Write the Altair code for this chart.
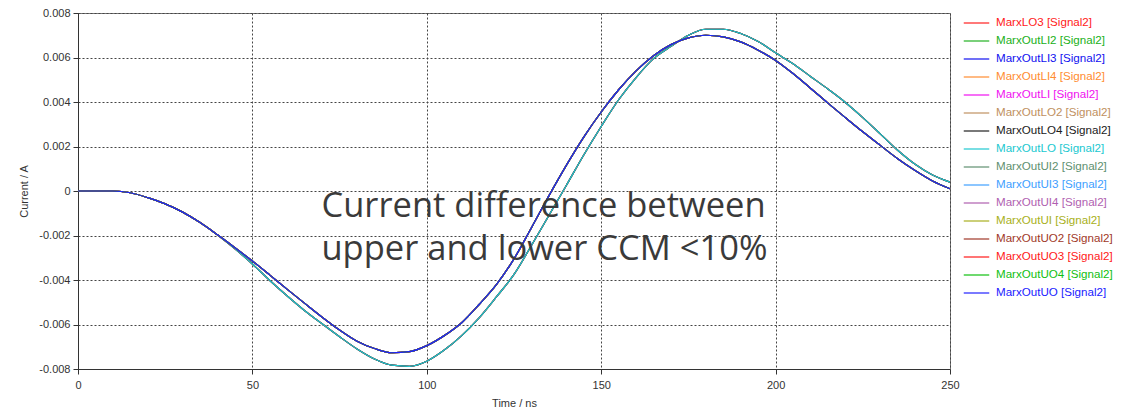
import altair as alt
import pandas as pd

# ---------------- data ----------------
time_ns = list(range(0, 251, 5))

# smaller-amplitude group of curves (mA)
group_a_mA = [0, 0, 0, -0.08, -0.3, -0.58, -0.95, -1.42, -1.97, -2.55,
              -3.15, -3.78, -4.42, -5.05, -5.67, -6.25, -6.75, -7.08, -7.27, -7.22,
              -6.95, -6.5, -5.92, -5.1, -4.2, -3.05, -1.65, -0.22, 1.15, 2.42,
              3.55, 4.55, 5.4, 6.08, 6.58, 6.88, 7.0, 6.93, 6.7, 6.33,
              5.87, 5.28, 4.62, 3.95, 3.3, 2.66, 2.05, 1.45, 0.92, 0.45,
              0.1]

# larger-amplitude group of curves (mA)
group_b_mA = [0, 0, 0, -0.08, -0.3, -0.58, -0.95, -1.42, -1.98, -2.6,
              -3.28, -4.02, -4.72, -5.38, -5.97, -6.55, -7.1, -7.55, -7.83, -7.88,
              -7.65, -7.15, -6.5, -5.7, -4.75, -3.75, -2.45, -1.1, 0.25, 1.62,
              2.9, 4.1, 5.1, 5.95, 6.5, 7.0, 7.27, 7.27, 7.08, 6.72,
              6.21, 5.72, 5.15, 4.58, 3.98, 3.3, 2.57, 1.83, 1.2, 0.72,
              0.4]

series_names = ["MarxLO3 [Signal2]", "MarxOutLI2 [Signal2]", "MarxOutLI3 [Signal2]",
                "MarxOutLI4 [Signal2]", "MarxOutLI [Signal2]", "MarxOutLO2 [Signal2]",
                "MarxOutLO4 [Signal2]", "MarxOutLO [Signal2]", "MarxOutUI2 [Signal2]",
                "MarxOutUI3 [Signal2]", "MarxOutUI4 [Signal2]", "MarxOutUI [Signal2]",
                "MarxOutUO2 [Signal2]", "MarxOutUO3 [Signal2]", "MarxOutUO4 [Signal2]",
                "MarxOutUO [Signal2]"]
series_colors = ["#ff2020", "#20b020", "#1010f0", "#ff8c30", "#f010f0", "#c09060",
                 "#202020", "#20c8d0", "#609070", "#40a0ff", "#b060b0", "#a8b020",
                 "#a03828", "#ff1818", "#10c010", "#2020ff"]
series_group = ["A", "B", "A", "B", "B", "B", "B", "B",
                "A", "A", "A", "A", "A", "A", "A", "A"]

x_ticks = [0, 50, 100, 150, 200, 250]
y_ticks = [-0.008, -0.006, -0.004, -0.002, 0, 0.002, 0.004, 0.006, 0.008]

annotation_lines = ["Current difference between", "upper and lower CCM <10%"]
annotation_t = [69.8, 69.8]
annotation_mA = [-1.16, -3.10]

# ---------------- tables ----------------
rows = []
for name, grp in zip(series_names, series_group):
    vals = group_a_mA if grp == "A" else group_b_mA
    for t, v in zip(time_ns, vals):
        rows.append({"t": t, "I": v / 1000.0, "series": name})
df = pd.DataFrame(rows)

ann = pd.DataFrame({"t": annotation_t, "I": [v / 1000.0 for v in annotation_mA],
                    "text": annotation_lines})

FONT = "Liberation Sans"
TXT = "#333333"

x_enc = alt.X("t:Q", scale=alt.Scale(domain=[0, 250], nice=False, zero=False),
              axis=alt.Axis(values=x_ticks, title="Time / ns", format="d"))
y_enc = alt.Y("I:Q", scale=alt.Scale(domain=[-0.008, 0.008], nice=False),
              axis=alt.Axis(values=y_ticks, title="Current / A",
                            labelExpr="datum.value == 0 ? '0' : replace(format(datum.value, '.3f'), '\u2212', '-')"))

lines = alt.Chart(df).mark_line(strokeWidth=1.2, interpolate="monotone").encode(
    x=x_enc,
    y=y_enc,
    color=alt.Color("series:N",
                    scale=alt.Scale(domain=series_names, range=series_colors),
                    sort=series_names,
                    legend=alt.Legend(
                        title=None, orient="none", legendX=889, legendY=0.5,
                        padding=0, rowPadding=2,
                        symbolType="M-1.5,0H1.5", symbolSize=289,
                        symbolStrokeWidth=1.2, labelOffset=10,
                        labelFont=FONT, labelFontSize=11.6,
                        labelColor={"expr": "scale('color', datum.value)"},
                        labelLimit=200)),
)

text = alt.Chart(ann).mark_text(align="left", baseline="alphabetic", font="Open Sans",
                                fontSize=34.5, color="#3a3a3a").encode(
    x="t:Q", y="I:Q", text="text:N")

chart = alt.layer(lines, text).properties(
    width=872, height=356,
    padding={"left": 70, "top": 5, "right": 166, "bottom": 40},
    autosize=alt.AutoSizeParams(type="none"),
).configure_view(stroke="#777777", strokeWidth=1).configure_axis(
    labelFont=FONT, labelFontSize=11, labelColor=TXT,
    titleFont=FONT, titleFontSize=11, titleColor=TXT, titleFontWeight="normal",
    domainColor="#333333", tickColor="#333333", tickSize=5,
    grid=True, gridColor="#444444", gridDash=[2, 2], gridWidth=1, gridOpacity=1,
).configure_axisX(labelPadding=5, titlePadding=7, labelFlush=False
).configure_axisY(labelPadding=3, titlePadding=9)

chart.save("out.html", embed_options={"renderer": "svg", "actions": False})
